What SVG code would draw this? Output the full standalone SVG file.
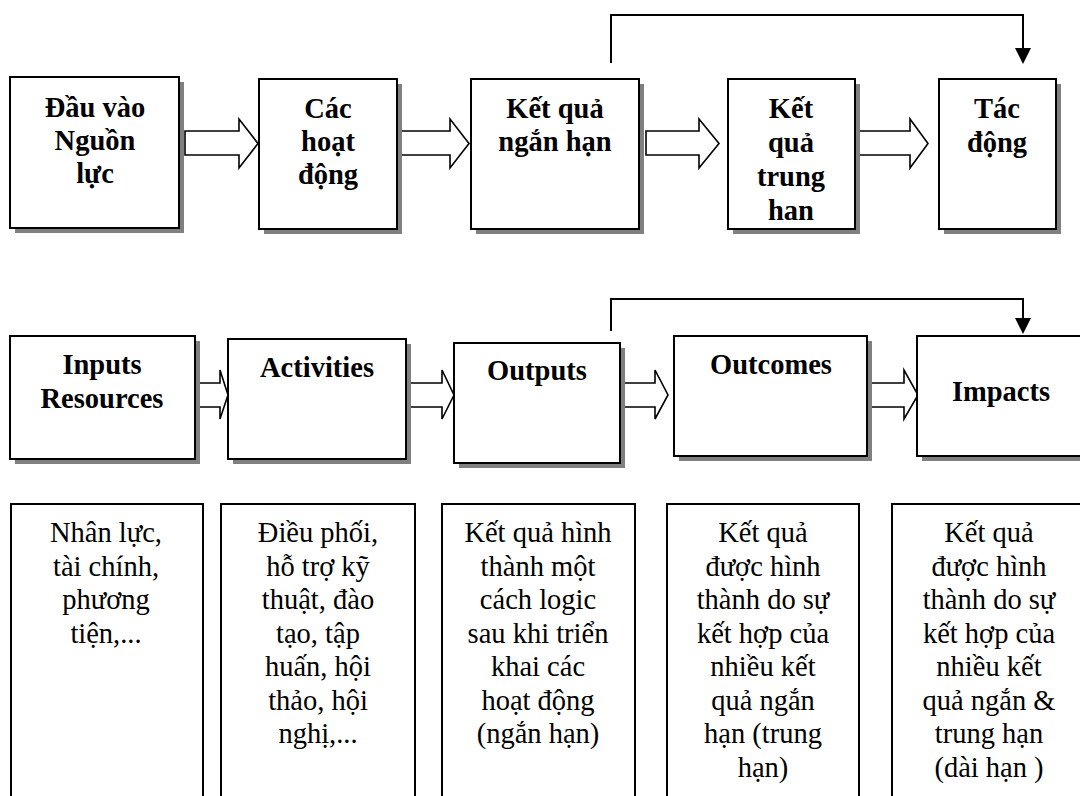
<svg xmlns="http://www.w3.org/2000/svg" width="1080" height="796" viewBox="0 0 1080 796">
  <style>
    .shadow{fill:#808080}
    .box{fill:#fff;stroke:#000;stroke-width:2}
    .arrow{fill:#fff;stroke:#000;stroke-width:1.6;stroke-linejoin:miter}
    .link{fill:none;stroke:#000;stroke-width:2}
    .head{fill:#000}
    .t{font-family:"Liberation Serif","Times New Roman",serif;font-size:28.5px;text-anchor:middle;fill:#000}
    .b{font-weight:bold}
  </style>
  <rect width="1080" height="796" fill="#fff"/>

  <!-- block arrows between stages -->
  <g id="connectors">
    <!-- row 1 -->
    <path class="arrow" d="M185,131 H239 V119 L258,143.5 L239,168 V155 H185 Z"/>
    <path class="arrow" d="M397,131 H450 V119 L469,143.5 L450,168 V155 H397 Z"/>
    <path class="arrow" d="M646,131 H699 V119 L719,143.5 L699,168 V155 H646 Z"/>
    <path class="arrow" d="M856,131 H910 V119 L928,143.5 L910,168 V155 H856 Z"/>
    <!-- row 2 -->
    <path class="arrow" d="M195,383 H220 V370 L228,395 L220,419 V407 H195 Z"/>
    <path class="arrow" d="M406,383 H442 V370 L454,395 L442,419 V407 H406 Z"/>
    <path class="arrow" d="M620,383 H655 V370 L668,395 L655,419 V407 H620 Z"/>
    <path class="arrow" d="M867,383 H904 V370 L918,395 L904,419 V407 H867 Z"/>
    <!-- feedback links: short-term result to impact -->
    <polyline class="link" points="611,63 611,15 1023,15 1023,50"/>
    <polygon class="head" points="1015,48 1031,48 1023,64"/>
    <polyline class="link" points="611,331 611,299 1023,299 1023,320"/>
    <polygon class="head" points="1015,318 1031,318 1023,334"/>
  </g>

  <!-- row 1: Vietnamese stages -->
  <g id="vn-inputs">
    <rect class="shadow" x="15" y="82" width="169" height="151"/>
    <rect class="box" x="10" y="77" width="169" height="151"/>
    <text class="t b" x="95" y="117">Đầu vào</text>
    <text class="t b" x="95" y="150">Nguồn</text>
    <text class="t b" x="95" y="183">lực</text>
  </g>
  <g id="vn-activities">
    <rect class="shadow" x="264" y="84" width="138" height="150"/>
    <rect class="box" x="259" y="79" width="138" height="150"/>
    <text class="t b" x="328" y="118">Các</text>
    <text class="t b" x="328" y="151">hoạt</text>
    <text class="t b" x="328" y="184">động</text>
  </g>
  <g id="vn-outputs">
    <rect class="shadow" x="476" y="84" width="168" height="150"/>
    <rect class="box" x="471" y="79" width="168" height="150"/>
    <text class="t b" x="555" y="118">Kết quả</text>
    <text class="t b" x="555" y="151">ngắn hạn</text>
  </g>
  <g id="vn-outcomes">
    <rect class="shadow" x="733" y="84" width="127" height="150"/>
    <rect class="box" x="728" y="79" width="127" height="150"/>
    <text class="t b" x="791" y="118">Kết</text>
    <text class="t b" x="791" y="152">quả</text>
    <text class="t b" x="791" y="186">trung</text>
    <text class="t b" x="791" y="220">han</text>
  </g>
  <g id="vn-impacts">
    <rect class="shadow" x="944" y="84" width="117" height="150"/>
    <rect class="box" x="939" y="79" width="117" height="150"/>
    <text class="t b" x="997" y="118">Tác</text>
    <text class="t b" x="997" y="152">động</text>
  </g>

  <!-- row 2: English stages -->
  <g id="en-inputs">
    <rect class="shadow" x="15" y="341" width="185" height="123"/>
    <rect class="box" x="10" y="336" width="185" height="123"/>
    <text class="t b" x="102" y="374">Inputs</text>
    <text class="t b" x="102" y="408">Resources</text>
  </g>
  <g id="en-activities">
    <rect class="shadow" x="233" y="344" width="178" height="120"/>
    <rect class="box" x="228" y="339" width="178" height="120"/>
    <text class="t b" x="317" y="377">Activities</text>
  </g>
  <g id="en-outputs">
    <rect class="shadow" x="459" y="348" width="166" height="120"/>
    <rect class="box" x="454" y="343" width="166" height="120"/>
    <text class="t b" x="537" y="380">Outputs</text>
  </g>
  <g id="en-outcomes">
    <rect class="shadow" x="679" y="341" width="193" height="120"/>
    <rect class="box" x="674" y="336" width="193" height="120"/>
    <text class="t b" x="771" y="374">Outcomes</text>
  </g>
  <g id="en-impacts">
    <rect class="shadow" x="922" y="341" width="180" height="120"/>
    <rect class="box" x="917" y="336" width="180" height="120"/>
    <text class="t b" x="1001" y="401">Impacts</text>
  </g>

  <!-- row 3: descriptions -->
  <g id="desc-inputs">
    <rect class="box" x="11" y="504" width="192" height="300"/>
    <text class="t" x="106" y="542">Nhân lực,</text>
    <text class="t" x="106" y="575.5">tài chính,</text>
    <text class="t" x="106" y="609">phương</text>
    <text class="t" x="106" y="642.5">tiện,...</text>
  </g>
  <g id="desc-activities">
    <rect class="box" x="221" y="504" width="194" height="300"/>
    <text class="t" x="318" y="542">Điều phối,</text>
    <text class="t" x="318" y="575.5">hỗ trợ kỹ</text>
    <text class="t" x="318" y="609">thuật, đào</text>
    <text class="t" x="318" y="642.5">tạo, tập</text>
    <text class="t" x="318" y="676">huấn, hội</text>
    <text class="t" x="318" y="709.5">thảo, hội</text>
    <text class="t" x="318" y="743">nghị,...</text>
  </g>
  <g id="desc-outputs">
    <rect class="box" x="442" y="504" width="193" height="300"/>
    <text class="t" x="538" y="542">Kết quả hình</text>
    <text class="t" x="538" y="575.5">thành một</text>
    <text class="t" x="538" y="609">cách logic</text>
    <text class="t" x="538" y="642.5">sau khi triển</text>
    <text class="t" x="538" y="676">khai các</text>
    <text class="t" x="538" y="709.5">hoạt động</text>
    <text class="t" x="538" y="743">(ngắn hạn)</text>
  </g>
  <g id="desc-outcomes">
    <rect class="box" x="667" y="504" width="192" height="300"/>
    <text class="t" x="763" y="542">Kết quả</text>
    <text class="t" x="763" y="575.5">được hình</text>
    <text class="t" x="763" y="609">thành do sự</text>
    <text class="t" x="763" y="642.5">kết hợp của</text>
    <text class="t" x="763" y="676">nhiều kết</text>
    <text class="t" x="763" y="709.5">quả ngắn</text>
    <text class="t" x="763" y="743">hạn (trung</text>
    <text class="t" x="763" y="776.5">hạn)</text>
  </g>
  <g id="desc-impacts">
    <rect class="box" x="892" y="504" width="200" height="300"/>
    <text class="t" x="989" y="542">Kết quả</text>
    <text class="t" x="989" y="575.5">được hình</text>
    <text class="t" x="989" y="609">thành do sự</text>
    <text class="t" x="989" y="642.5">kết hợp của</text>
    <text class="t" x="989" y="676">nhiều kết</text>
    <text class="t" x="989" y="709.5">quả ngắn &amp;</text>
    <text class="t" x="989" y="743">trung hạn</text>
    <text class="t" x="989" y="776.5">(dài hạn )</text>
  </g>
</svg>
